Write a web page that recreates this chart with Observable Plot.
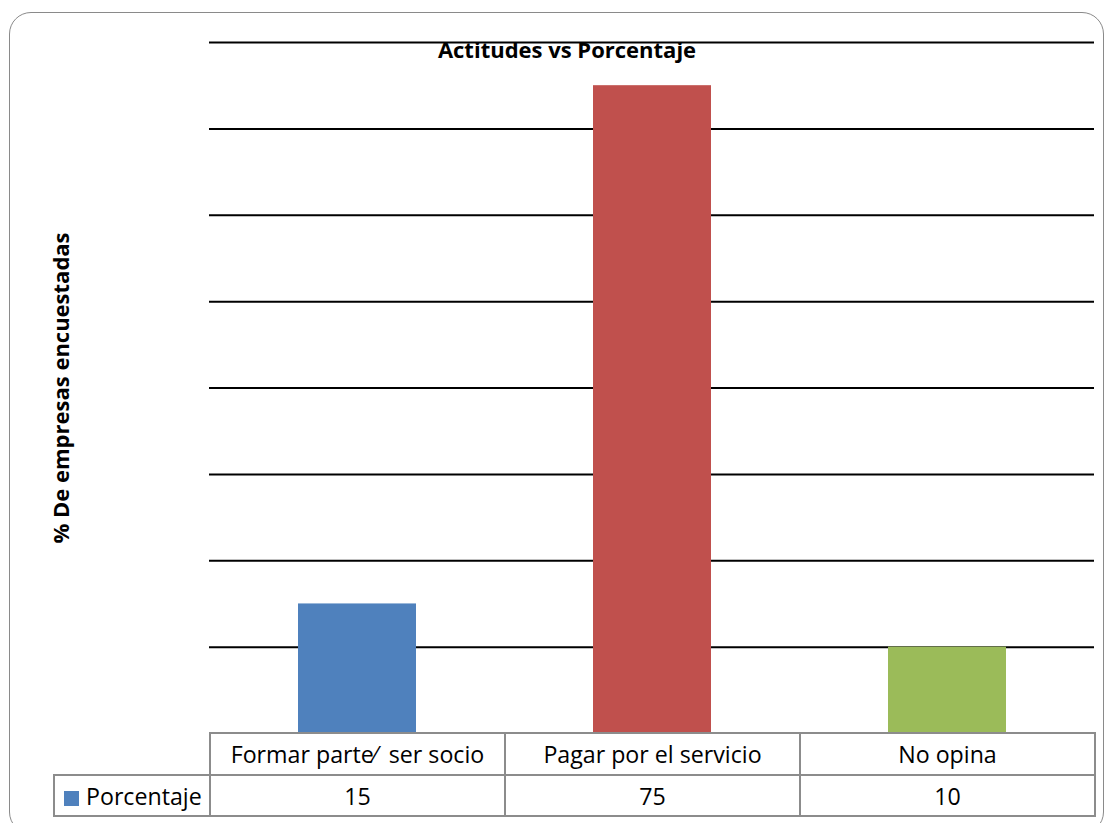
<!DOCTYPE html>
<html>
<head>
<meta charset="utf-8">
<script src="https://cdn.jsdelivr.net/npm/d3@7"></script>
<script src="https://cdn.jsdelivr.net/npm/@observablehq/plot@0.6"></script>
<style>
  body { margin: 0; background: #fff; font-family: "Open Sans", Lato, sans-serif; }
  #chart { position: relative; width: 1110px; height: 823px; overflow: hidden; }
  #box { position: absolute; left: 9px; top: 12px; width: 1095px; height: 822px;
         border: 1.5px solid #8a8a8a; border-radius: 22px; box-sizing: border-box; }
  #plot { position: absolute; left: 0; top: 0; }
  #title { position: absolute; left: 367px; width: 400px; top: 37px; text-align: center;
           font-weight: bold; font-size: 22px; line-height: 24px; color: #000; }
  table { position: absolute; left: 53px; top: 732px; border-collapse: collapse; table-layout: fixed; }
  td { border: 2px solid #8c8c8c; padding: 0; text-align: center; font-size: 23.2px; color: #000;
       white-space: pre; overflow: hidden; }
  tr.head td { height: 40px; }
  tr.vals td { height: 39px; }
  td.corner { border-top: none; border-left: none; }
  td.serie { text-align: left; padding-left: 9px; }
  .swatch { display: inline-block; width: 15px; height: 15px; margin-right: 7px; vertical-align: -1px; }
</style>
</head>
<body>
<div id="chart">
  <div id="box"></div>
  <div id="plot"></div>
  <div id="title"></div>
  <table id="tabla"></table>
</div>
<script>
// Actitudes de las empresas encuestadas
const titulo = "Actitudes vs Porcentaje";
const ejeY = "% De empresas encuestadas";
const serie = "Porcentaje";
const categorias = ["Formar parte\u2044  ser socio", "Pagar por el servicio", "No opina"];
const valores = [15, 75, 10];
const colores = ["#4F81BD", "#C0504D", "#9BBB59"];
const lineasGuia = [10, 20, 30, 40, 50, 60, 70, 80];

const datos = categorias.map((c, i) => ({ categoria: c, valor: valores[i] }));

const grafico = Plot.plot({
  width: 1110,
  height: 735,
  marginLeft: 209,
  marginRight: 16,
  marginTop: 42,
  marginBottom: 2,
  x: { domain: categorias, padding: 0, axis: null },
  y: { domain: [0, 80], axis: null },
  color: { domain: categorias, range: colores },
  style: { background: "transparent", overflow: "visible" },
  marks: [
    Plot.ruleY(lineasGuia, { stroke: "#000", strokeWidth: 2 }),
    Plot.barY(datos, { x: "categoria", y: "valor", fill: "categoria", insetLeft: 89, insetRight: 88 }),
    Plot.text([ejeY], {
      text: d => d, frameAnchor: "left", textAnchor: "middle", rotate: -90, dx: -148,
      fontWeight: "bold", fontSize: 22, fontFamily: "'Open Sans', Lato, sans-serif", fill: "#000"
    })
  ]
});
document.getElementById("plot").appendChild(grafico);
document.getElementById("title").textContent = titulo;

// tabla de datos bajo el eje de categorías
const tabla = document.getElementById("tabla");
const colW = [156, 295, 295, 295];
const cg = document.createElement("colgroup");
colW.forEach(w => { const c = document.createElement("col"); c.style.width = w + "px"; cg.appendChild(c); });
tabla.appendChild(cg);
const fila1 = document.createElement("tr");
fila1.className = "head";
const esquina = document.createElement("td");
esquina.className = "corner";
fila1.appendChild(esquina);
categorias.forEach(c => { const td = document.createElement("td"); td.textContent = c; fila1.appendChild(td); });
tabla.appendChild(fila1);
const fila2 = document.createElement("tr");
fila2.className = "vals";
const tdSerie = document.createElement("td");
tdSerie.className = "serie";
const sw = document.createElement("span");
sw.className = "swatch";
sw.style.background = colores[0];
tdSerie.appendChild(sw);
tdSerie.appendChild(document.createTextNode(serie));
fila2.appendChild(tdSerie);
valores.forEach(v => { const td = document.createElement("td"); td.textContent = v; fila2.appendChild(td); });
tabla.appendChild(fila2);
</script>
</body>
</html>
